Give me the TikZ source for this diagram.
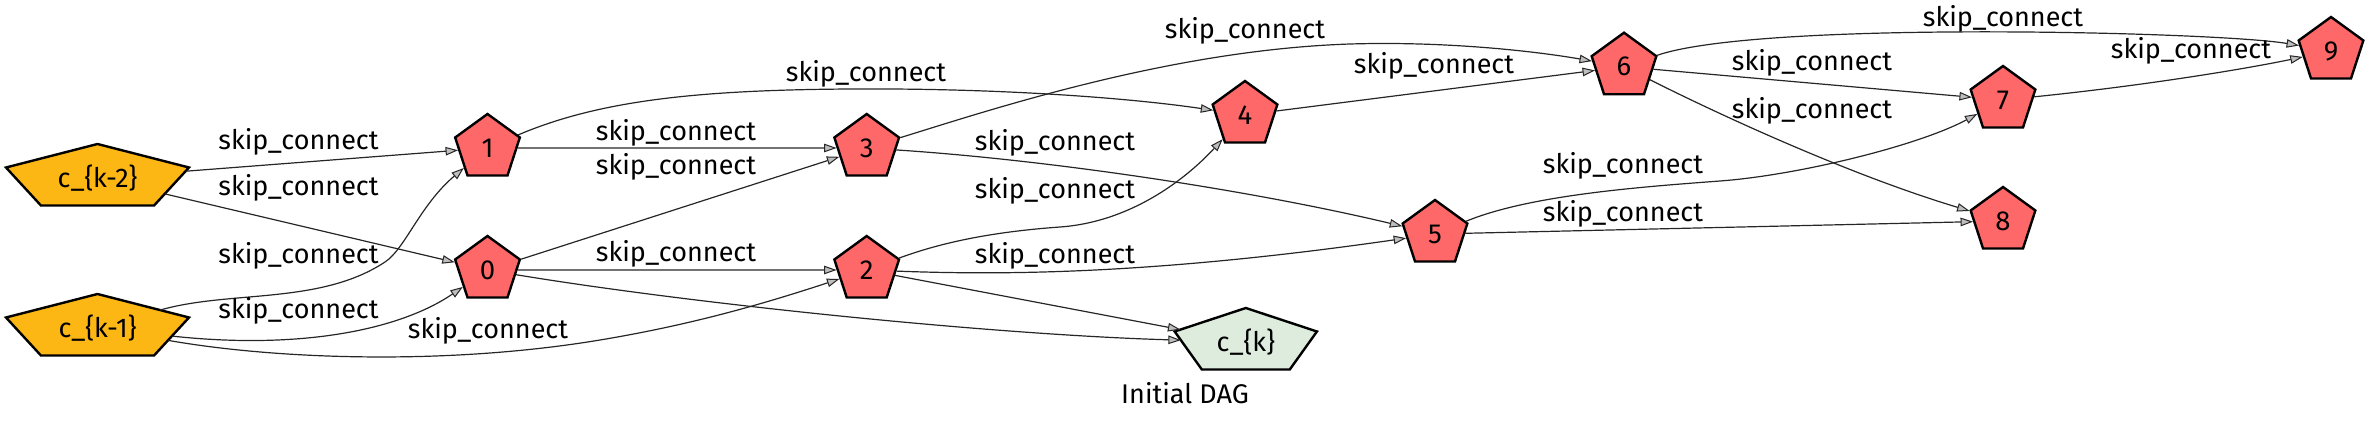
\documentclass[tikz,border=0pt]{standalone}
\usepackage{fontspec}
\setmainfont{Fira Sans}
\usetikzlibrary{shapes.geometric,arrows.meta}
\definecolor{nred}{RGB}{255,104,104}
\definecolor{norange}{RGB}{253,183,20}
\definecolor{ngreen}{RGB}{222,236,222}
\definecolor{agray}{RGB}{190,190,190}
\begin{document}
\begin{tikzpicture}[x=1pt,y=-1pt,
  pent/.style={regular polygon, regular polygon sides=5, minimum size=68pt, inner sep=0pt,
    draw=black, line width=2.4pt, fill=nred, font=\fontsize{27.5}{30}\selectfont},
  widepent/.style={pent, transform shape, outer sep=0pt},
  conn/.style={line width=1.2pt, draw=black!85,
    -{Triangle[length=12.5pt,width=8.5pt,fill=agray,line width=1pt]}},
  lbl/.style={inner sep=0pt, font=\fontsize{27}{30}\selectfont}]
\useasboundingbox (0,0) rectangle (2369,423);
% nodes
\node[widepent, fill=norange, xscale=2.83] (ck2) at (97.5,178) {};
\node[lbl] (ck2t) at (ck2.center) {c\_\{k-2\}};
\node[widepent, fill=norange, xscale=2.83] (ck1) at (97.5,328) {};
\node[lbl] (ck1t) at (ck1.center) {c\_\{k-1\}};
\node[pent] (n1) at (487.5,148) {1};
\node[pent] (n0) at (487.5,270) {0};
\node[pent] (n3) at (866.7,148) {3};
\node[pent] (n2) at (866.7,270) {2};
\node[pent] (n4) at (1245,115) {4};
\node[pent] (n5) at (1435,234) {5};
\node[pent] (n6) at (1624,66.7) {6};
\node[pent] (n7) at (2003,100) {7};
\node[pent] (n8) at (2003,221) {8};
\node[pent] (n9) at (2331,51) {9};
\node[widepent, fill=ngreen, xscale=2.2] (ck) at (1245.8,342) {};
\node[lbl] (ckt) at (ck.center) {c\_\{k\}};
\node[lbl] (title) at (1185,393) {Initial DAG};
% edges
\draw[conn] (ck2) -- (n1);
\draw[conn] (ck2) -- (n0);
\draw[conn] (ck1) .. controls (230,290) and (320,305) .. (385,262) .. controls (405,249) and (420,205) .. (n1);
\draw[conn] (ck1) .. controls (300,350) and (400,330) .. (n0);
\draw[conn] (ck1) .. controls (280,360) and (450,365) .. (600,340) .. controls (690,325) and (760,305) .. (n2);
\draw[conn] (n1) -- (n3);
\draw[conn] (n1) .. controls (600,100) and (700,90) .. (850,89) .. controls (1000,88) and (1130,98) .. (n4);
\draw[conn] (n0) -- (n3);
\draw[conn] (n0) -- (n2);
\draw[conn] (n0) .. controls (700,305) and (1000,335) .. (ck);
\draw[conn] (n2) -- (ck);
\draw[conn] (n3) .. controls (990,110) and (1170,50) .. (1350,44) .. controls (1450,41) and (1540,52) .. (n6);
\draw[conn] (n3) .. controls (1050,160) and (1250,190) .. (n5);
\draw[conn] (n2) .. controls (940,243) and (990,232) .. (1060,227) .. controls (1130,222) and (1185,180) .. (n4);
\draw[conn] (n2) .. controls (1000,275) and (1150,275) .. (n5);
\draw[conn] (n4) -- (n6);
\draw[conn] (n5) .. controls (1530,195) and (1640,187) .. (1720,181) .. controls (1800,175) and (1920,145) .. (n7);
\draw[conn] (n5) -- (n8);
\draw[conn] (n6) .. controls (1760,20) and (2220,32) .. (n9);
\draw[conn] (n6) -- (n7);
\draw[conn] (n6) .. controls (1720,115) and (1850,175) .. (n8);
\draw[conn] (n7) .. controls (2150,85) and (2250,68) .. (n9);
% labels
\node[lbl] (l1) at (298.5,142) {skip\_connect};
\node[lbl] (l2) at (298.5,188) {skip\_connect};
\node[lbl] (l3) at (298.5,256) {skip\_connect};
\node[lbl] (l4) at (298.5,311) {skip\_connect};
\node[lbl] (l5) at (488,331) {skip\_connect};
\node[lbl] (l6) at (676,133) {skip\_connect};
\node[lbl] (l7) at (676,167) {skip\_connect};
\node[lbl] (l8) at (676,254) {skip\_connect};
\node[lbl] (l9) at (866,74) {skip\_connect};
\node[lbl] (l10) at (1055,143) {skip\_connect};
\node[lbl] (l11) at (1055,191) {skip\_connect};
\node[lbl] (l12) at (1055,256) {skip\_connect};
\node[lbl] (l13) at (1245,31) {skip\_connect};
\node[lbl] (l14) at (1434,66) {skip\_connect};
\node[lbl] (l15) at (1623,166) {skip\_connect};
\node[lbl] (l16) at (1623,214) {skip\_connect};
\node[lbl] (l17) at (2003,19) {skip\_connect};
\node[lbl] (l18) at (1812,63) {skip\_connect};
\node[lbl] (l19) at (1812,111) {skip\_connect};
\node[lbl] (l20) at (2191,51) {skip\_connect};
\end{tikzpicture}
\end{document}
